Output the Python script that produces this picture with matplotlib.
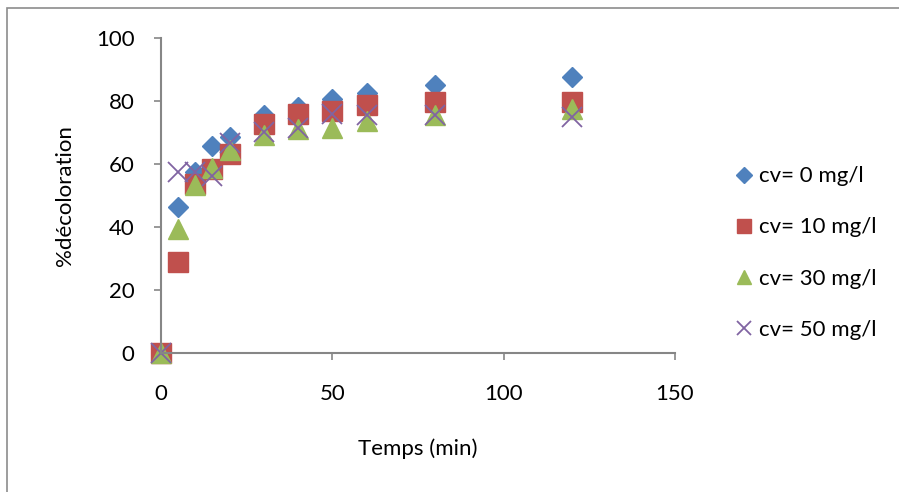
import matplotlib.pyplot as plt
import matplotlib.patches as patches

plt.rcParams['font.family'] = ['Lato', 'DejaVu Sans']

# data
temps = [0, 5, 10, 15, 20, 30, 40, 50, 60, 80, 120]
cv0 = [0, 46.4, 57.5, 65.7, 68.5, 75.5, 78.2, 80.5, 82.6, 85.1, 87.5]
cv10 = [0, 28.8, 53.7, 58.3, 63.2, 72.7, 75.9, 76.9, 78.7, 79.8, 79.7]
cv30 = [0, 39.5, 53.3, 58.8, 64.4, 69.2, 71.0, 71.3, 73.8, 75.6, 77.5]
cv50 = [0, 57.4, 57.6, 56.3, 66.6, 70.3, 71.3, 75.9, 75.6, 75.6, 75.0]
labels = ['cv= 0 mg/l', 'cv= 10 mg/l', 'cv= 30 mg/l', 'cv= 50 mg/l']

fig = plt.figure(figsize=(8.99, 4.92), dpi=100)
W, H = 899, 492
ax = fig.add_axes([161 / W, 1 - 353 / H, (675 - 161) / W, (353 - 38) / H])

# outer chart frame
fig.patches.append(patches.Rectangle((7 / W, -0.01), 1.0, 1 - 8 / H + 0.01,
                                     transform=fig.transFigure, fill=False,
                                     edgecolor='#8c8c8c', linewidth=1.2))

ax.plot(temps, cv0, 'D', color='#4F81BD', markersize=10.5, linestyle='none', label=labels[0])
ax.plot(temps, cv10, 's', color='#C0504D', markersize=14, linestyle='none', label=labels[1])
ax.plot(temps, cv30, '^', color='#9BBB59', markersize=14, linestyle='none', label=labels[2])
ax.plot(temps, cv50, 'x', color='#8064A2', markersize=14, markeredgewidth=1.3,
        linestyle='none', label=labels[3])

ax.set_xlim(0, 150)
ax.set_ylim(0, 100)
ax.set_xticks([0, 50, 100, 150])
ax.set_yticks([0, 20, 40, 60, 80, 100])
for s in ['top', 'right']:
    ax.spines[s].set_visible(False)
for s in ['left', 'bottom']:
    ax.spines[s].set_color('#868686')
    ax.spines[s].set_linewidth(1.5)
ax.tick_params(direction='out', length=5, width=1.2, color='#868686',
               labelsize=16)
ax.tick_params(axis='y', pad=14)
ax.tick_params(axis='x', pad=17)
for lab in ax.get_xticklabels() + ax.get_yticklabels():
    lab.set_zorder(5)
for line in ax.lines:
    line.set_clip_on(False)

ax.set_xlabel('Temps (min)', fontsize=16, labelpad=25)
ax.set_ylabel('%décoloration', fontsize=16, labelpad=15)

ax.legend(loc='center left', bbox_to_anchor=(715 / W, 1 - 253 / H),
          bbox_transform=fig.transFigure, frameon=False, fontsize=16,
          markerscale=0.75, handlelength=0.8, handletextpad=0.3,
          labelspacing=1.4)

fig.savefig('out.png', dpi=100)
